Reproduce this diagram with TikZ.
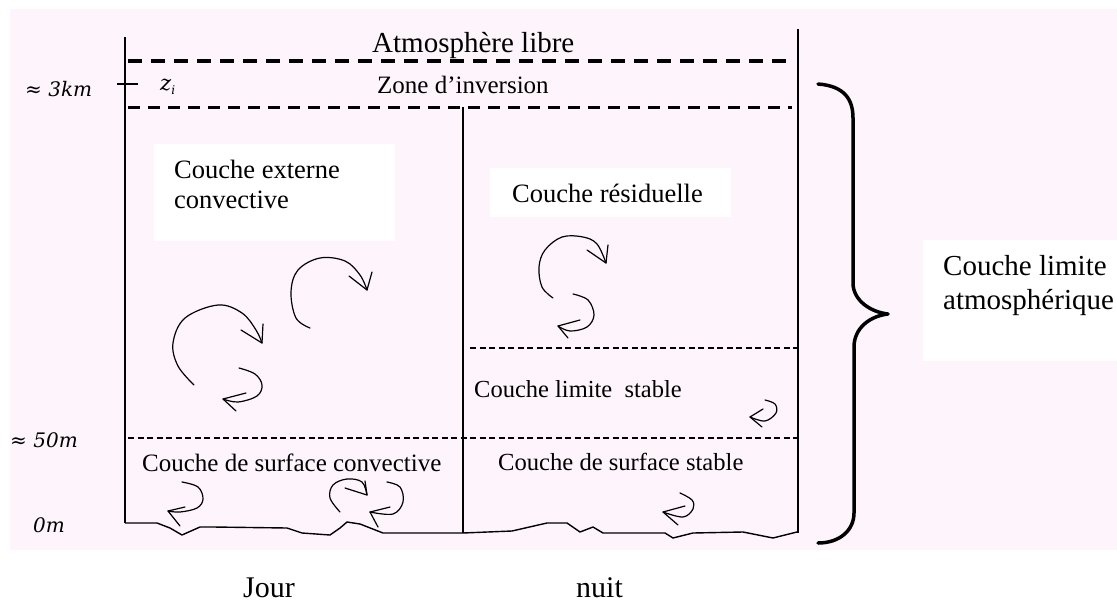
\documentclass[tikz,border=0pt]{standalone}
\usepackage{fontspec}
\setmainfont{Liberation Serif}
\newfontfamily\dvsfont{DejaVu Serif}
\definecolor{bgpink}{RGB}{253,245,251}
\tikzset{
  axisline/.style={line width=2pt},
  thickdash/.style={line width=4pt, dash pattern=on 14pt off 9pt},
  meddash/.style={line width=3pt, dash pattern=on 12pt off 8pt},
  thindash/.style={line width=1.5pt, dash pattern=on 6pt off 3.5pt},
  groundline/.style={line width=1.4pt, line join=round},
  eddy/.style={line width=1.2pt, line cap=round, line join=round},
  bracestyle/.style={line width=3.5pt, line join=round, line cap=round},
  lbl/.style={inner sep=0pt, anchor=base west},
}
\begin{document}
\begin{tikzpicture}[x=1pt,y=-1pt]
\useasboundingbox (0,0) rectangle (1117,603);
\fill[white] (0,0) rectangle (1117,603);
\fill[bgpink] (10,9) rectangle (1117,550);
\fill[white] (154,144) rectangle (395,241);
\fill[white] (490,168) rectangle (731,217);
\fill[white] (923,240) rectangle (1117,361);

% frame lines
\draw[axisline] (125,37) -- (125,523);
\draw[axisline] (117,84) -- (138,84);
\draw[axisline] (798,29) -- (798,533);
\draw[axisline] (463,107) -- (463,533);
\draw[thickdash] (128,61) -- (792,61);
\draw[meddash] (128,107) -- (792,107);
\draw[thindash] (128,438) -- (798,438);
\draw[thindash] (470,348) -- (798,348);

% ground
\draw[groundline] plot coordinates {(125,523) (157,523) (170,528) (182,535) (200,527) (213,527) (287,528) (302,533) (330,535) (340,528) (347,522) (360,524) (383,533) (463,533)};
\draw[groundline] plot coordinates {(463,533) (512,531) (547,523) (567,523) (580,532) (593,527) (603,533) (665,533) (673,538) (693,533) (743,532) (773,538) (797,532)};

% eddies
\draw[eddy] plot[smooth, tension=0.6] coordinates {(194,385) (178,366) (173,343) (185,318) (218,305) (242,313) (256,330) (262,343)};
\draw[eddy] (241,330) -- (262,343) -- (263,324);
\draw[eddy] plot[smooth, tension=0.6] coordinates {(239,368) (255,374) (262,385) (257,396) (238,402) (223,399)};
\draw[eddy] (246,393) -- (223,399) -- (236,411);
\draw[eddy] plot[smooth, tension=0.6] coordinates {(310,328) (296,318) (291,292) (298,270) (320,258) (345,261) (360,275) (367,290)};
\draw[eddy] (349,276) -- (367,290) -- (372,272);
\draw[eddy] plot[smooth, tension=0.6] coordinates {(182,482) (198,487) (203,499) (197,508) (180,512) (168,511)};
\draw[eddy] (185,507) -- (168,511) -- (180,526);
\draw[eddy] plot[smooth, tension=0.6] coordinates {(340,512) (330,498) (333,485) (347,479) (362,482) (367,495)};
\draw[eddy] (345,488) -- (367,495) -- (365,481);
\draw[eddy] plot[smooth, tension=0.6] coordinates {(387,482) (400,487) (403,502) (393,514) (370,512)};
\draw[eddy] (390,507) -- (370,512) -- (378,527);
\draw[eddy] plot[smooth, tension=0.6] coordinates {(553,298) (542,287) (539,267) (545,250) (562,237) (583,237) (597,244) (606,263)};
\draw[eddy] (587,250) -- (606,263) -- (608,245);
\draw[eddy] plot[smooth, tension=0.6] coordinates {(573,294) (588,300) (594,315) (587,327) (570,331) (558,326)};
\draw[eddy] (580,320) -- (558,326) -- (568,338);
\draw[eddy] plot[smooth, tension=0.6] coordinates {(765,400) (775,404) (776,413) (765,421) (750,417)};
\draw[eddy] (763,409) -- (750,417) -- (762,427);
\draw[eddy] plot[smooth, tension=0.6] coordinates {(680,493) (692,500) (693,509) (683,517) (663,512)};
\draw[eddy] (685,506) -- (663,512) -- (678,525);

% brace
\draw[bracestyle] (818,84) .. controls (845,86) and (853,100) .. (853,118) -- (853,283)
  .. controls (853,300) and (870,312) .. (888,314)
  .. controls (870,316) and (854,328) .. (854,347) -- (854,513)
  .. controls (854,530) and (840,543) .. (818,543);

% labels inside diagram
\node[lbl] (atm) at (372,52) {\fontsize{29}{33}\selectfont Atmosphère libre};
\node[lbl] (zone) at (377,93) {\fontsize{25}{28}\selectfont Zone d'inversion};
\node[lbl] (zi) at (160,90) {\dvsfont\itshape\fontsize{21}{24}\selectfont z\raisebox{-4pt}{\fontsize{12}{13}\selectfont i}};
\node[lbl] (h3) at (25,96) {\dvsfont\fontsize{20}{23}\selectfont ≈ \itshape 3km};
\node[lbl] (h50) at (10,447) {\dvsfont\fontsize{20}{23}\selectfont ≈ \itshape 50m};
\node[lbl] (h0) at (33,532) {\dvsfont\itshape\fontsize{20}{23}\selectfont 0m};

\node[lbl] (csc) at (142,471) {\fontsize{25}{28}\selectfont Couche de surface convective};
\node[lbl] (cls) at (474,397) {\fontsize{24.5}{28}\selectfont Couche limite\ \ stable};
\node[lbl] (css) at (498,470) {\fontsize{24.6}{28}\selectfont Couche de surface stable};

\node[lbl] (ext1) at (174,178) {\fontsize{26.5}{30}\selectfont Couche externe};
\node[lbl] (ext2) at (174,208) {\fontsize{26.5}{30}\selectfont convective};
\node[lbl] (res) at (512,202) {\fontsize{26.5}{30}\selectfont Couche résiduelle};
\node[lbl] (cla1) at (943,275) {\fontsize{29}{33}\selectfont Couche limite};
\node[lbl] (cla2) at (943,309) {\fontsize{29}{33}\selectfont atmosphérique};
\node[lbl] (jour) at (243,597) {\fontsize{30}{34}\selectfont Jour};
\node[lbl] (nuit) at (576,597) {\fontsize{30}{34}\selectfont nuit};
\end{tikzpicture}
\end{document}
